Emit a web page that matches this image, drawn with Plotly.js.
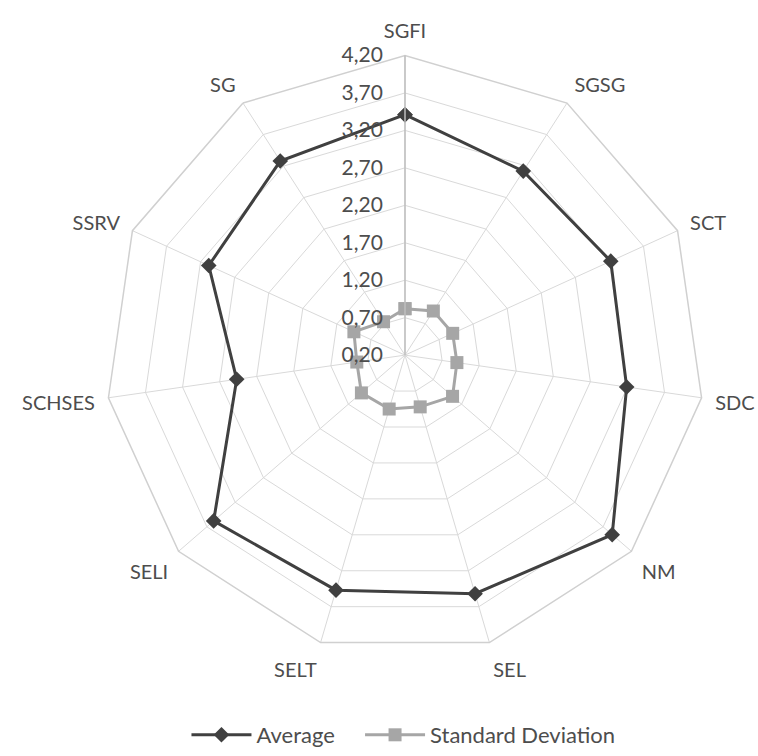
<!DOCTYPE html>
<html>
<head>
<meta charset="utf-8">
<script src="https://cdn.plot.ly/plotly-3.0.1.min.js"></script>
<style>html,body{margin:0;padding:0;background:#fff;}#chart{width:758px;height:756px;}</style>
</head>
<body>
<div id="chart"></div>
<script>
var categories = ["SGFI","SGSG","SCT","SDC","NM","SEL","SELT","SELI","SCHSES","SSRV","SG"];
var averageValues = [3.41, 3.12, 3.22, 3.19, 3.86, 3.52, 3.47, 3.58, 2.47, 3.08, 3.28];
var stdValues = [0.82, 0.90, 0.90, 0.90, 1.04, 0.92, 0.95, 0.97, 0.85, 0.95, 0.73];
var radialTicks = [0.2, 0.7, 1.2, 1.7, 2.2, 2.7, 3.2, 3.7, 4.2];
var radialTickText = ["0,20","0,70","1,20","1,70","2,20","2,70","3,20","3,70","4,20"];

function closeLoop(a){ return a.concat([a[0]]); }

var traces = [
  {
    type: "scatterpolar",
    name: "Average",
    r: closeLoop(averageValues),
    theta: closeLoop(categories),
    mode: "lines+markers",
    line: {color: "#404040", width: 3},
    marker: {symbol: "diamond", size: 12, color: "#404040"},
    legend: "legend"
  },
  {
    type: "scatterpolar",
    name: "Standard Deviation",
    r: closeLoop(stdValues),
    theta: closeLoop(categories),
    mode: "lines+markers",
    line: {color: "#a6a6a6", width: 3},
    marker: {symbol: "square", size: 13, color: "#a6a6a6"},
    legend: "legend2"
  }
];

var legendStyle = function(xpos){
  return {
    orientation: "h",
    x: xpos, xanchor: "left",
    y: 0.02, yanchor: "middle",
    font: {size: 22, color: "#4d4d4d"},
    itemwidth: 60,
    bgcolor: "rgba(0,0,0,0)"
  };
};

var layout = {
  width: 758,
  height: 756,
  margin: {l: 0, r: 0, t: 0, b: 0},
  paper_bgcolor: "#ffffff",
  plot_bgcolor: "#ffffff",
  font: {family: "Lato, 'Open Sans', sans-serif", color: "#4d4d4d", size: 20},
  showlegend: true,
  legend: legendStyle(0.246),
  legend2: legendStyle(0.475),
  polar: {
    domain: {x: [0.1359, 0.9327], y: [0.127, 0.926]},
    bgcolor: "#ffffff",
    gridshape: "linear",
    radialaxis: {
      range: [0.2, 4.2],
      tickvals: radialTicks,
      ticktext: radialTickText,
      angle: 90,
      tickangle: 90,
      side: "counterclockwise",
      showline: true,
      linecolor: "#bfbfbf",
      linewidth: 1.5,
      gridcolor: "#d9d9d9",
      gridwidth: 1,
      ticks: "outside",
      ticklen: 14,
      tickcolor: "rgba(0,0,0,0)",
      tickfont: {size: 21, color: "#4d4d4d"}
    },
    angularaxis: {
      rotation: 90,
      direction: "clockwise",
      linecolor: "#d0d0d0",
      linewidth: 1.5,
      gridcolor: "#d9d9d9",
      gridwidth: 1,
      ticks: "outside",
      ticklen: 9,
      tickcolor: "rgba(0,0,0,0)",
      tickfont: {size: 20, color: "#4d4d4d"}
    }
  }
};

Plotly.newPlot("chart", traces, layout, {displayModeBar: false});
</script>
</body>
</html>
